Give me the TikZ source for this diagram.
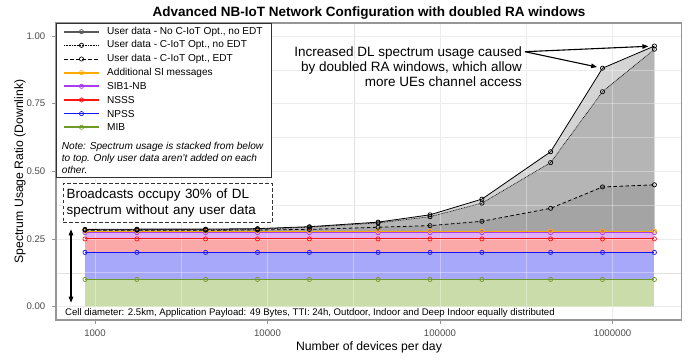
\documentclass[tikz,border=0pt]{standalone}
\usepackage{fontspec}
\setmainfont{Liberation Sans}
\usetikzlibrary{arrows.meta}

\definecolor{mibline}{RGB}{110,155,40}
\definecolor{mibfill}{RGB}{203,220,171}
\definecolor{npssline}{RGB}{20,20,255}
\definecolor{npssfill}{RGB}{168,168,250}
\definecolor{nsssline}{RGB}{255,20,20}
\definecolor{nsssfill}{RGB}{250,168,168}
\definecolor{sibline}{RGB}{170,60,240}
\definecolor{sibfill}{RGB}{222,174,248}
\definecolor{siline}{RGB}{255,170,0}
\definecolor{sifill}{RGB}{255,220,160}
\definecolor{greyA}{RGB}{212,212,212}
\definecolor{greyB}{RGB}{181,181,181}
\definecolor{greyC}{RGB}{164,164,164}
\definecolor{gridc}{RGB}{226,226,226}
\definecolor{ticktext}{RGB}{77,77,77}
\definecolor{panelb}{RGB}{150,150,150}
\definecolor{boxline}{RGB}{50,50,50}

\newcommand\fsz[2]{\fontsize{#1}{#2}\selectfont}

\tikzset{
  gridmajor/.style={draw=gridc, line width=0.6pt},
  gridminor/.style={draw=gridc, line width=0.35pt},
  gridover/.style={draw=white, line width=0.6pt, opacity=0.35},
  axtick/.style={draw=panelb, line width=0.6pt},
  ticklab/.style={text=ticktext, font=\fsz{9.6}{11}, inner sep=0pt},
  mk/.style={circle, draw=#1, line width=0.7pt, inner sep=0pt, minimum size=4.2pt},
  levline/.style={draw=#1, line width=0.9pt},
  keyline/.style={draw=#1, line width=1.7pt},
  legtext/.style={anchor=west, inner sep=0pt, font=\fsz{10.1}{12}},
  arr/.style={draw=black, line width=1.1pt, -{Triangle[length=6pt,width=4.5pt]}},
  dblarr/.style={draw=black, line width=1.1pt, {Triangle[length=6pt,width=4.5pt]}-{Triangle[length=6pt,width=4.5pt]}},
  dotline/.style={draw=black, line width=0.6pt, dash pattern=on 0.8pt off 0.8pt},
  dashline/.style={draw=black, line width=0.8pt, dash pattern=on 3.5pt off 2.5pt},
  solidline/.style={draw=black, line width=0.8pt}
}

\begin{document}
\begin{tikzpicture}[x=1pt,y=-1pt]
\useasboundingbox[fill=white] (0,0) rectangle (687,360);

% title
\node[font=\bfseries\fsz{13.5}{16}] (title) at (369,13) {Advanced NB-IoT Network Configuration with doubled RA windows};

% grid below the data
\foreach \gx in {181.25,353.75,526.25} \draw[gridminor] (\gx,23) -- (\gx,320);
\foreach \gx in {95,267.5,440,612.5} \draw[gridmajor] (\gx,23) -- (\gx,320);
\foreach \gy in {272.69,205.06,137.44,69.81} \draw[gridminor] (56,\gy) -- (681.7,\gy);
\foreach \gy in {306.5,238.875,171.25,103.625,36} \draw[gridmajor] (56,\gy) -- (681.7,\gy);

% stacked areas (x in px, y as ratio)
\begin{scope}[shift={(0,306.5)}, y={(0,270.5pt)}]
  \fill[mibfill] (85,0) rectangle (654.4,0.1);
  \fill[npssfill] (85,0.1) rectangle (654.4,0.2);
  \fill[nsssfill] (85,0.2) rectangle (654.4,0.25);
  \fill[sibfill] (85,0.25) rectangle (654.4,0.273);
  \fill[sifill] (85,0.273) rectangle (654.4,0.279);
  \fill[greyA] (85,0.279) -- plot coordinates {(85.0,0.285) (136.9,0.286) (205.6,0.286) (257.5,0.288) (309.4,0.295) (378.1,0.312) (430.0,0.339) (481.9,0.397) (550.6,0.572) (602.5,0.881) (654.4,0.963)} -- (654.4,0.279) -- cycle;
  \fill[greyB] (85,0.279) -- plot coordinates {(85.0,0.284) (136.9,0.284) (205.6,0.284) (257.5,0.286) (309.4,0.293) (378.1,0.309) (430.0,0.332) (481.9,0.382) (550.6,0.532) (602.5,0.794) (654.4,0.951)} -- (654.4,0.279) -- cycle;
  \fill[greyC] (85,0.279) -- plot coordinates {(85.0,0.282) (136.9,0.282) (205.6,0.282) (257.5,0.283) (309.4,0.285) (378.1,0.293) (430.0,0.299) (481.9,0.315) (550.6,0.363) (602.5,0.442) (654.4,0.450)} -- (654.4,0.279) -- cycle;
\end{scope}

% grid showing through the areas
\foreach \gx in {181.25,353.75,526.25,95,267.5,440,612.5} \draw[gridover] (\gx,23) -- (\gx,320);
\foreach \gy in {272.69,205.06,137.44,69.81,306.5,238.875,171.25,103.625,36} \draw[gridover] (56,\gy) -- (681.7,\gy);

% lines and points
\begin{scope}[shift={(0,306.5)}, y={(0,270.5pt)}]
  \draw[levline=mibline] (85,0.1) -- (654.4,0.1);
  \draw[levline=npssline] (85,0.2) -- (654.4,0.2);
  \draw[levline=nsssline] (85,0.25) -- (654.4,0.25);
  \draw[levline=sibline] (85,0.273) -- (654.4,0.273);
  \draw[levline=siline] (85,0.279) -- (654.4,0.279);
  \draw[dashline] plot coordinates {(85.0,0.282) (136.9,0.282) (205.6,0.282) (257.5,0.283) (309.4,0.285) (378.1,0.293) (430.0,0.299) (481.9,0.315) (550.6,0.363) (602.5,0.442) (654.4,0.450)};
  \draw[dotline] plot coordinates {(85.0,0.284) (136.9,0.284) (205.6,0.284) (257.5,0.286) (309.4,0.293) (378.1,0.309) (430.0,0.332) (481.9,0.382) (550.6,0.532) (602.5,0.794) (654.4,0.951)};
  \draw[solidline] plot coordinates {(85.0,0.285) (136.9,0.286) (205.6,0.286) (257.5,0.288) (309.4,0.295) (378.1,0.312) (430.0,0.339) (481.9,0.397) (550.6,0.572) (602.5,0.881) (654.4,0.963)};
  \foreach \px/\a/\b/\c in {85.0/0.285/0.284/0.282, 136.9/0.286/0.284/0.282, 205.6/0.286/0.284/0.282, 257.5/0.288/0.286/0.283, 309.4/0.295/0.293/0.285, 378.1/0.312/0.309/0.293, 430.0/0.339/0.332/0.299, 481.9/0.397/0.382/0.315, 550.6/0.572/0.532/0.363, 602.5/0.881/0.794/0.442, 654.4/0.963/0.951/0.450} {
    \node[mk=mibline] at (\px,0.1) {};
    \node[mk=npssline] at (\px,0.2) {};
    \node[mk=nsssline] at (\px,0.25) {};
    \node[mk=sibline] at (\px,0.273) {};
    \node[mk=siline] at (\px,0.279) {};
    \node[mk=black] at (\px,\c) {};
    \node[mk=black] at (\px,\b) {};
    \node[mk=black] at (\px,\a) {};
  }
  \coordinate (peakA) at (654.4,0.963);
  \coordinate (peakB) at (602.5,0.881);
\end{scope}

% panel border, ticks and tick labels
\draw[panelb, line width=1.1pt] (56,23) rectangle (681.7,320);
\foreach \gy/\lab in {306.5/0.00,238.875/0.25,171.25/0.50,103.625/0.75,36/1.00} {
  \draw[axtick] (52,\gy) -- (56,\gy);
  \node[ticklab, anchor=east] at (45.5,\gy) {\lab};
}
\foreach \gx/\lab in {95/1000,267.5/10000,440/100000,612.5/1000000} {
  \draw[axtick] (\gx,320) -- (\gx,324);
  \node[ticklab] at (\gx,333.3) {\lab};
}

% axis titles
\node[font=\fsz{12.2}{14}] (xtitle) at (369,347.3) {Number of devices per day};
\node[font=\fsz{12.2}{14}, rotate=90] (ytitle) at (20,171.5) {Spectrum Usage Ratio (Downlink)};

% legend
\node[draw=boxline, line width=0.7pt, fill=white, anchor=north west, minimum width=215pt, minimum height=153.7pt, inner sep=0pt] (legend) at (56,23) {};
\foreach \k/\sty/\col/\lab in {
   0/keyline/gray!70!black/{User data - No C-IoT Opt., no EDT},
   1/dotline/black/{User data - C-IoT Opt., no EDT},
   2/dashline/black/{User data - C-IoT Opt., EDT},
   3/keyline/siline/{Additional SI messages},
   4/keyline/sibline/{SIB1-NB},
   5/keyline/nsssline/{NSSS},
   6/keyline/npssline/{NPSS},
   7/keyline/mibline/{MIB}} {
  \pgfmathsetmacro\ky{31.7+13.65*\k}
  \draw[\sty=\col] (64,\ky) -- (99,\ky);
  \node[mk=\col] at (81.5,\ky) {};
  \node[legtext] at (107,\ky) {\lab};
}
\node[anchor=west, align=left, inner sep=0pt, font=\itshape\fsz{10.1}{12.3}] (note) at (61.7,157.9)
  {Note: Spectrum usage is stacked from below\\to top. Only user data aren't added on each\\other.};

% broadcast remark
\node[draw=boxline, line width=0.8pt, dash pattern=on 3.5pt off 2.5pt, fill=white, anchor=north west,
      minimum width=209pt, minimum height=39.6pt, text width=202pt, inner xsep=3.3pt, inner ysep=0pt,
      align=left, font=\fsz{13.4}{16.7}] (bcast) at (62.7,182.7)
  {Broadcasts occupy 30\% of DL\\spectrum without any user data};
\coordinate (brtop) at (71,229.3);
\coordinate (brbot) at (71,302.7);
\draw[dblarr] (brtop) -- (brbot);

% settings line
\node[anchor=west, inner sep=0pt, font=\fsz{9.6}{11}] (cell) at (65,313)
  {Cell diameter: 2.5km, Application Payload: 49 Bytes, TTI: 24h, Outdoor, Indoor and Deep Indoor equally distributed};

% annotation with arrows
\node[anchor=east, align=right, inner sep=0pt, font=\fsz{13.5}{15}] (incr) at (522,66.7)
  {Increased DL spectrum usage caused\\by doubled RA windows, which allow\\more UEs channel access};
\coordinate (incrtip) at (525,51.7);
\draw[arr, shorten >=6pt] (incrtip) -- (peakA);
\draw[arr, shorten >=5.5pt] (incrtip) -- (peakB);
\end{tikzpicture}
\end{document}
